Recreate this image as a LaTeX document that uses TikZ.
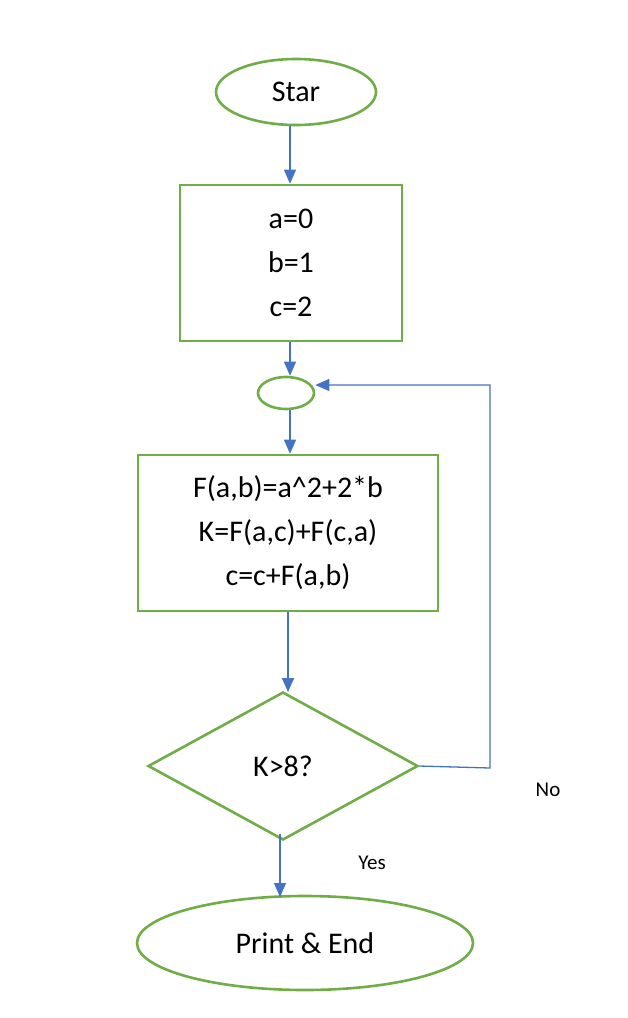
\documentclass[tikz,border=0pt]{standalone}
\usepackage{fontspec}
\setmainfont{Carlito}
\usetikzlibrary{shapes.geometric,arrows.meta}
\definecolor{gr}{HTML}{70AD47}
\definecolor{bl}{HTML}{4472C4}
\begin{document}
\begin{tikzpicture}[x=1pt,y=-1pt,
  shp/.style={draw=gr,line width=2.6pt,inner sep=0pt,font=\fontsize{30}{44}\selectfont,align=center},
  ell/.style={shp,ellipse},
  boxn/.style={shp,rectangle},
  dia/.style={shp,diamond,aspect=1.8},
  arr/.style={draw=bl,line width=1.3pt,-{Triangle[length=14pt,width=12pt]}},
  lbl/.style={font=\fontsize{21}{24}\selectfont}]
\useasboundingbox (0,0) rectangle (628,1018);
\node[ell,minimum width=160,minimum height=66] (start) at (296,92) {Star};
\node[boxn,minimum width=222,minimum height=156] (init) at (291,263) {a=0\\b=1\\c=2};
\node[ell,minimum width=56,minimum height=32] (join) at (286,393) {};
\node[boxn,minimum width=300,minimum height=156] (calc) at (288,533) {F(a,b)=a\^{}2+2*b\\K=F(a,c)+F(c,a)\\c=c+F(a,b)};
\node[dia,minimum width=270,minimum height=148] (test) at (283,766) {K>8?};
\node[ell,minimum width=336,minimum height=94] (stop) at (305,943) {Print \& End};
\node[lbl] (no) at (548,790) {No};
\node[lbl] (yes) at (372,863) {Yes};
\coordinate (c1) at (490,768);
\coordinate (c2) at (490,385);
\draw[arr] (start.south -| 290,0) -- (init.north -| 290,0);
\draw[arr] (init.south -| 290,0) -- (join.north -| 290,0);
\draw[arr] (join.south -| 290,0) -- (calc.north -| 290,0);
\draw[arr] (calc.south -| 288,0) -- (288,692);
\draw[arr] (280,834) -- (280,897);
\draw[arr] (test.east) -- (c1) -- (c2) -- (join.east |- c2);
\end{tikzpicture}
\end{document}
